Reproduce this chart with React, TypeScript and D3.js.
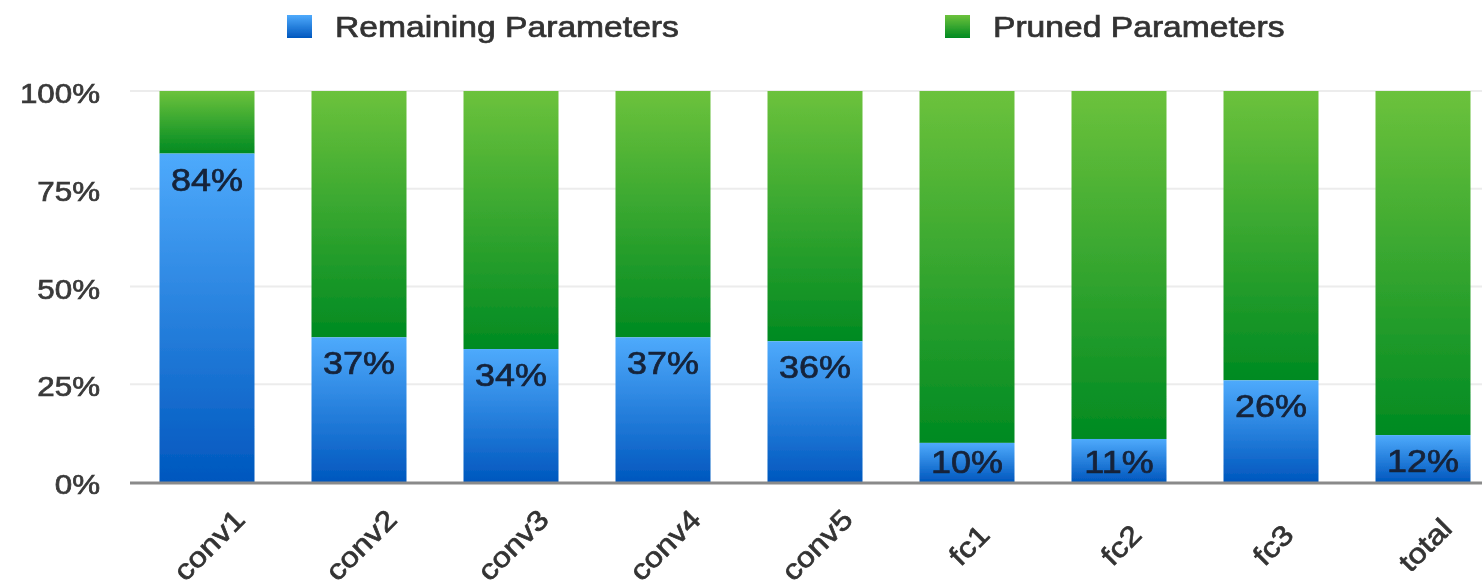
import React from "react";
import * as d3 from "d3";

const categories = ["conv1", "conv2", "conv3", "conv4", "conv5", "fc1", "fc2", "fc3", "total"];
const remaining = [84, 37, 34, 37, 36, 10, 11, 26, 12];
const yTicks = [0, 25, 50, 75, 100];
const seriesNames = ["Remaining Parameters", "Pruned Parameters"];

const W = 1482;
const H = 588;
const FONT = "'Liberation Sans', Arial, Helvetica, sans-serif";
const SX = 1.16;

export default function App() {
  const x = d3
    .scaleBand<string>()
    .domain(categories)
    .range([131, 1499])
    .paddingInner(0.375)
    .paddingOuter(0.1875);
  const y = d3.scaleLinear().domain([0, 100]).range([482, 91]);
  const bw = x.bandwidth();
  const fmt = (v: number) => `${v}%`;

  return (
    <svg
      width={W}
      height={H}
      style={{ position: "absolute", left: 0, top: 0, background: "#fff" }}
      fontFamily={FONT}
    >
      <defs>
        <linearGradient id="blueGrad" x1="0" y1="0" x2="0" y2="1">
          <stop offset="0" stopColor="#4eaafc" />
          <stop offset="1" stopColor="#0057be" />
        </linearGradient>
        <linearGradient id="greenGrad" x1="0" y1="0" x2="0" y2="1">
          <stop offset="0" stopColor="#6cc23c" />
          <stop offset="1" stopColor="#008a22" />
        </linearGradient>
        <filter id="soft" x="-5%" y="-5%" width="110%" height="110%">
          <feGaussianBlur stdDeviation="0.75" />
        </filter>
      </defs>
      <g filter="url(#soft)">
        {/* legend */}
        {seriesNames.map((name, i) => {
          const lx = i === 0 ? 287 : 945;
          return (
            <g key={name}>
              <rect x={lx} y={15} width={25} height={23} fill={i === 0 ? "url(#blueGrad)" : "url(#greenGrad)"} />
              <g transform={`translate(${lx + 48},37) scale(${SX},1)`}>
                <text fontSize={29} fill="#333" stroke="#333" strokeWidth={0.7}>{name}</text>
              </g>
            </g>
          );
        })}

        {/* gridlines */}
        {yTicks
          .filter((t) => t > 0)
          .map((t) => (
            <line key={t} x1={130} x2={W} y1={y(t)} y2={y(t)} stroke="#ececec" strokeWidth={2} />
          ))}

        {/* y tick labels */}
        {yTicks.map((t) => (
          <g key={t} transform={`translate(100,${y(t) + 3}) scale(${SX},1)`}>
            <text fontSize={27} fill="#3a3a3a" stroke="#3a3a3a" strokeWidth={0.7} textAnchor="end" dominantBaseline="central">
              {fmt(t)}
            </text>
          </g>
        ))}

        {/* bars */}
        {categories.map((c, i) => {
          const x0 = x(c)!;
          const v = remaining[i];
          return (
            <g key={c}>
              <rect x={x0} y={y(100)} width={bw} height={y(v) - y(100)} fill="url(#greenGrad)" />
              <rect x={x0} y={y(v)} width={bw} height={y(0) - y(v)} fill="url(#blueGrad)" />
            </g>
          );
        })}

        {/* baseline */}
        <line x1={130} x2={W} y1={y(0) + 1} y2={y(0) + 1} stroke="#8a8a8a" strokeWidth={3} />

        {/* bar labels */}
        {categories.map((c, i) => {
          const cx = x(c)! + bw / 2;
          const v = remaining[i];
          const by = Math.min(y(v) + 37, y(0) - 9);
          return (
            <g key={c} transform={`translate(${cx},${by}) scale(${SX},1)`}>
              <text fontSize={31} fill="#15243a" stroke="#15243a" strokeWidth={0.7} textAnchor="middle">
                {fmt(v)}
              </text>
            </g>
          );
        })}

        {/* x labels */}
        {categories.map((c) => {
          const cx = x(c)! + bw / 2;
          return (
            <g key={c} transform={`translate(${cx + 2},545) rotate(-45) scale(${SX},1)`}>
              <text fontSize={28} fill="#333" stroke="#333" strokeWidth={0.7} textAnchor="middle" dominantBaseline="central">
                {c}
              </text>
            </g>
          );
        })}
      </g>
    </svg>
  );
}
